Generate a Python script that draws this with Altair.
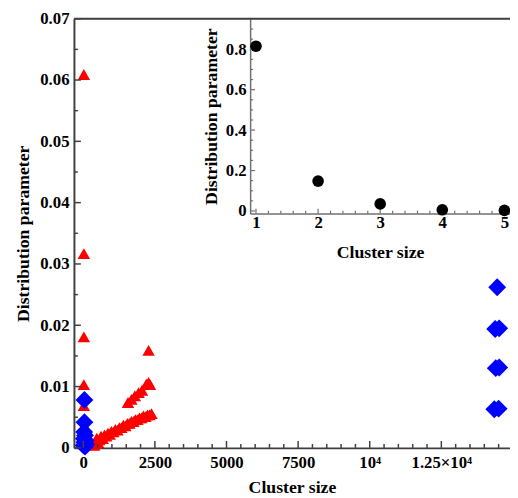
import altair as alt
import pandas as pd

FONT = "Liberation Serif"

# ---------------- data ----------------
red_x = [20, 20, 20, 20, 20, 120,
         380, 420, 470, 520, 560, 620, 680, 740, 800, 860, 920, 980, 1050,
         1120, 1190, 1260, 1330, 1400, 1470, 1540, 1610, 1680, 1750, 1820,
         1890, 1960, 2030, 2100, 2170, 2240, 2310, 2380,
         1560, 1680, 1800, 1930, 2050, 2200, 2280, 2330, 2280]
red_y = [0.0609, 0.0317, 0.0181, 0.0103, 0.0069, 0.0030,
         0.0004, 0.0010, 0.0016, 0.0008, 0.0013, 0.0019, 0.0015, 0.0021,
         0.0019, 0.0024, 0.0022, 0.0027, 0.0026, 0.0030, 0.0029, 0.0033,
         0.0033, 0.0037, 0.0036, 0.0040, 0.0040, 0.0043, 0.0043, 0.0046,
         0.0046, 0.0049, 0.0049, 0.0052, 0.0051, 0.0054, 0.0054, 0.0056,
         0.0074, 0.0079, 0.0085, 0.0090, 0.0094, 0.0104, 0.0107, 0.0103, 0.0159]

blue_x = [40, 40, 30, 60, 20, 80, 40, 100, 10, 60,
          14450, 14380, 14520, 14400, 14520, 14350, 14500]
blue_y = [0.0078, 0.0042, 0.0026, 0.0020, 0.0015, 0.0012, 0.0009, 0.0006,
          0.0004, 0.0002,
          0.0262, 0.0194, 0.0195, 0.0130, 0.0131, 0.0063, 0.0064]

inset_x = [1, 2, 3, 4, 5]
inset_y = [0.815, 0.148, 0.035, 0.006, 0.003]

# tick values
main_x_major = [0, 2500, 5000, 7500, 10000, 12500]
main_x_minor = [500, 1000, 1500, 2000, 3000, 3500, 4000, 4500, 5500, 6000,
                6500, 7000, 8000, 8500, 9000, 9500, 10500, 11000, 11500,
                12000, 13000, 13500, 14000, 14500]
main_y_major = [0, 0.01, 0.02, 0.03, 0.04, 0.05, 0.06, 0.07]
main_y_minor = [0.005, 0.015, 0.025, 0.035, 0.045, 0.055, 0.065]
inset_x_major = [1, 2, 3, 4, 5]
inset_x_minor = [1.2, 1.4, 1.6, 1.8, 2.2, 2.4, 2.6, 2.8, 3.2, 3.4, 3.6, 3.8,
                 4.2, 4.4, 4.6, 4.8]
inset_y_major = [0, 0.2, 0.4, 0.6, 0.8]
inset_y_minor = [0.05, 0.1, 0.15, 0.25, 0.3, 0.35, 0.45, 0.5, 0.55, 0.65,
                 0.7, 0.75, 0.85, 0.9]

# ---------------- layout ----------------
W, H = 443, 436
INS_L, INS_R = 179, 443
INS_B, INS_T = 198, 0

red_df = pd.DataFrame({"x": red_x, "y": red_y})
blue_df = pd.DataFrame({"x": blue_x, "y": blue_y})
ins_df = pd.DataFrame({"x": inset_x, "y": inset_y})

mx = alt.Scale(domain=[-326, 14897], nice=False, zero=False)
my = alt.Scale(domain=[0, 0.07], nice=False, zero=False)
ix = alt.Scale(domain=[0.906, 5.09], range=[INS_L, INS_R], nice=False, zero=False)
iy = alt.Scale(domain=[-0.013, 0.951], range=[INS_B, INS_T], nice=False, zero=False)

lab = dict(labelFont=FONT, labelFontSize=17, labelFontWeight="bold",
           labelColor="black", titleFont=FONT, titleFontSize=18,
           titleFontWeight="bold", titleColor="black", grid=False,
           ticks=False, tickSize=0, labelOverlap=False, labelFlush=False)

x_axis = alt.Axis(values=main_x_major, title="Cluster size", orient="bottom",
                  labelExpr="datum.value == 10000 ? '10\u2074' : datum.value == 12500 ? '1.25\u00d710\u2074' : format(datum.value, 'd')",
                  domainColor="#404040", domainWidth=2, labelPadding=7,
                  titlePadding=8, **lab)
y_axis = alt.Axis(values=main_y_major, title="Distribution parameter", orient="left",
                  labelExpr="datum.value == 0 ? '0' : format(datum.value, '.2f')",
                  domainColor="#404040", domainWidth=2, labelPadding=5,
                  titlePadding=7, **lab)

ix_axis = alt.Axis(values=inset_x_major, title="Cluster size", orient="bottom",
                   offset=-(H - INS_B), format="d", domainColor="#707070",
                   domainWidth=1.5, labelPadding=1, titlePadding=14, **lab)
iy_axis = alt.Axis(values=inset_y_major, title="Distribution parameter",
                   orient="left", offset=-INS_L,
                   labelExpr="datum.value == 0 ? '0' : format(datum.value, '.1f')",
                   domainColor="#707070", domainWidth=1.5, labelPadding=4,
                   titlePadding=5, **lab)

red = alt.Chart(red_df).mark_point(shape="triangle-up", filled=True, size=160,
                                   color="#ff0000", opacity=1).encode(
    x=alt.X("x:Q", scale=mx, axis=x_axis),
    y=alt.Y("y:Q", scale=my, axis=y_axis))
blue = alt.Chart(blue_df).mark_point(shape="diamond", filled=True, size=330,
                                     color="#0000ff", opacity=1).encode(
    x=alt.X("x:Q", scale=mx, axis=x_axis),
    y=alt.Y("y:Q", scale=my, axis=y_axis))


def vticks(vals, scale, axis, y0, y1, color="#404040", width=1.5):
    return alt.Chart(pd.DataFrame({"x": vals})).mark_rule(
        color=color, strokeWidth=width).encode(
        x=alt.X("x:Q", scale=scale, axis=axis),
        y=alt.value(y0), y2=alt.value(y1))


def hticks(vals, scale, axis, x0, x1, color="#404040", width=1.5):
    return alt.Chart(pd.DataFrame({"y": vals})).mark_rule(
        color=color, strokeWidth=width).encode(
        y=alt.Y("y:Q", scale=scale, axis=axis),
        x=alt.value(x0), x2=alt.value(x1))


top_line = alt.Chart(pd.DataFrame({"y": [0.07]})).mark_rule(
    color="#404040", strokeWidth=2).encode(
    y=alt.Y("y:Q", scale=my, axis=y_axis))

main = alt.layer(
    red, blue,
    vticks(main_x_major, mx, x_axis, H, H - 7),
    vticks(main_x_minor, mx, x_axis, H, H - 4),
    hticks(main_y_major, my, y_axis, 0, 7),
    hticks(main_y_minor, my, y_axis, 0, 4),
    top_line,
)

ins_pts = alt.Chart(ins_df).mark_point(shape="circle", filled=True, size=140,
                                       color="black", opacity=1).encode(
    x=alt.X("x:Q", scale=ix, axis=ix_axis),
    y=alt.Y("y:Q", scale=iy, axis=iy_axis))

inset = alt.layer(
    vticks(inset_x_major, ix, ix_axis, INS_B, INS_B - 5, "#707070", 1.2),
    vticks(inset_x_minor, ix, ix_axis, INS_B, INS_B - 3, "#707070", 1.2),
    hticks(inset_y_major, iy, iy_axis, INS_L, INS_L + 5, "#707070", 1.2),
    hticks(inset_y_minor, iy, iy_axis, INS_L, INS_L + 3, "#707070", 1.2),
    ins_pts,
)

chart = alt.layer(main, inset).resolve_scale(
    x="independent", y="independent"
).properties(
    width=W, height=H,
    autosize=alt.AutoSizeParams(type="none"),
    padding={"left": 67, "top": 7, "right": 0, "bottom": 45},
).configure_view(stroke=None).configure(background="white")

chart.save("out.html", embed_options={"renderer": "svg", "actions": False})
